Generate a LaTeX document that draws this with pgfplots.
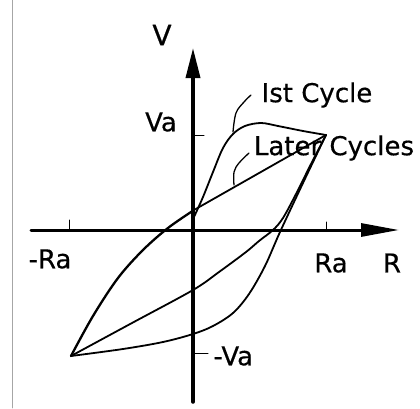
\documentclass[border=0pt]{standalone}
\usepackage{pgfplots}
\pgfplotsset{compat=1.18}
\usetikzlibrary{arrows.meta}
\usepackage{fontspec}
\setmainfont{DejaVu Sans}[FakeBold=0.5]
\newfontfamily\lbl{DejaVu Sans}[FakeBold=0.5]

\begin{document}
\begin{tikzpicture}
\begin{axis}[
  at={(0,0)}, anchor=south west,
  scale only axis, width=420pt, height=408pt,
  xmin=-193, xmax=227, ymin=-178, ymax=230,
  hide axis, clip=false,
  every axis plot/.append style={black, line join=round, line cap=round},
]
% page edge line
\addplot[gray!70, line width=0.8pt] coordinates {(-181,-178) (-181,230)};

% axes with arrow heads
\addplot[line width=3pt, -{Triangle[length=38pt,width=13pt]}] coordinates {(-162,0) (206,0)};
\addplot[line width=3.5pt, -{Triangle[length=30pt,width=14pt]}] coordinates {(0,-172) (0,182)};

% ticks at +-Ra and +-Va
\addplot[line width=1pt] coordinates {(-124,0) (-124,10)};
\addplot[line width=1pt] coordinates {(133,0) (133,8)};
\addplot[line width=1pt] coordinates {(0,95) (11,95)};
\addplot[line width=1pt] coordinates {(0,-123) (15,-123)};

% first cycle: loading from the origin up to the peak
\addplot[line width=1.8pt, smooth, tension=0.55] coordinates {
  (1,13) (10,33) (20,58) (30,82) (40,96) (52,104) (68,107)
  (85,104) (110,99) (133,95)};

% first cycle: unloading to the negative peak
\addplot[line width=1.8pt, smooth, tension=0.55] coordinates {
  (133,95) (110,47) (87,-2) (72,-36) (56,-64) (40,-83) (20,-96)
  (0,-104) (-30,-112) (-70,-119) (-122,-126)};

% later cycles: unloading branch
\addplot[line width=1.8pt, smooth, tension=0.55] coordinates {
  (133,95) (118,66) (103,36) (90,12) (80,0) (66,-11) (53,-22)
  (26,-42) (0,-60) (-61,-93) (-122,-126)};

% reloading from the negative peak, then straight to the peak
\addplot[line width=2.3pt, smooth, tension=0.55] coordinates {
  (-122,-126) (-100,-86) (-75,-48) (-50,-20) (-25,2) (1,20)};
\addplot[line width=1.8pt] coordinates {(1,20) (133,95)};

% leader lines to the labels
\addplot[line width=1.3pt, smooth, tension=0.6] coordinates {
  (58,135) (51,128) (43,117) (40,98)};
\addplot[line width=1.3pt, smooth, tension=0.6] coordinates {
  (56,77) (46,67) (41,58) (41,45)};

% labels
\node[font=\lbl\fontsize{28}{30}\selectfont] at (axis cs:-31,195) {V};
\node[font=\lbl\fontsize{26}{28}\selectfont] at (axis cs:-32,108) {Va};
\node[font=\lbl\fontsize{26}{28}\selectfont] at (axis cs:124,135) {Ist Cycle};
\node[font=\lbl\fontsize{26}{28}\selectfont] at (axis cs:141,82) {Later Cycles};
\node[font=\lbl\fontsize{26}{28}\selectfont] at (axis cs:-143,-29) {-Ra};
\node[font=\lbl\fontsize{26}{28}\selectfont] at (axis cs:138,-33) {Ra};
\node[font=\lbl\fontsize{26}{28}\selectfont] at (axis cs:199,-33) {R};
\node[font=\lbl\fontsize{26}{28}\selectfont, anchor=west] at (axis cs:17,-126) {-Va};
\end{axis}
\pgfresetboundingbox
\path (0,0) rectangle (420pt,408pt);
\end{tikzpicture}
\end{document}
